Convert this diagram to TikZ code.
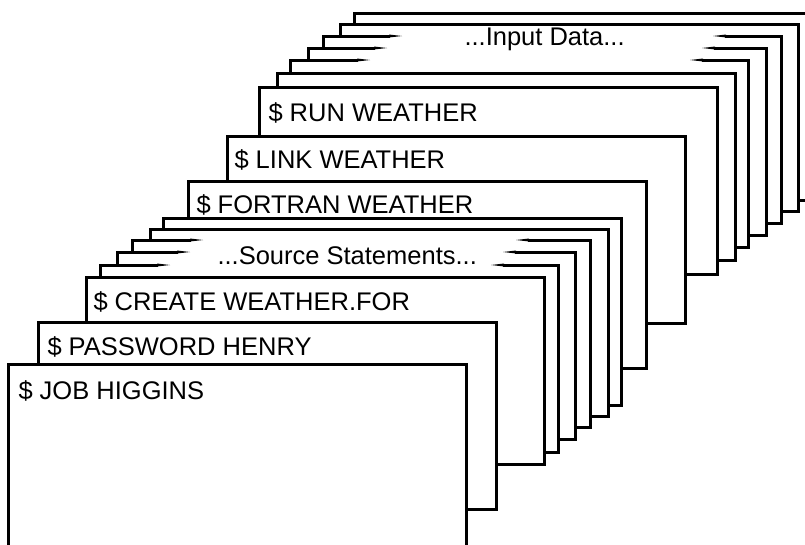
\documentclass[tikz,border=0pt]{standalone}
\usepackage{fontspec}
\setmainfont{Liberation Sans}
\newcommand\deckfullcard[2]{%
  \filldraw[fill=white] (#1,#2) rectangle ++(458,187);}
\newcommand\decktapercard[4]{%
  \fill[white] (#1,#2) rectangle ++(458,187);
  \draw (#4+12,#2) -- (#1+458,#2) -- (#1+458,#2+187) -- (#1,#2+187) -- (#1,#2) -- (#3-12,#2);
  \fill (#3-13,#2-1.5) -- (#3,#2) -- (#3-13,#2+1.5) -- cycle;
  \fill (#4+13,#2-1.5) -- (#4,#2) -- (#4+13,#2+1.5) -- cycle;}
\begin{document}
\begin{tikzpicture}[x=1pt,y=-1pt,line width=3pt,line join=miter,
  cardtext/.style={anchor=base west,inner sep=0pt,font=\fontsize{25.5}{30}\selectfont}]
\useasboundingbox (0,0) rectangle (805,544);
\clip (0,0) rectangle (805,544);
% input data group (back)
\deckfullcard{354}{13}
\deckfullcard{340}{24}
\decktapercard{323}{36}{402}{713}
\decktapercard{308}{48}{387}{702}
\decktapercard{290}{60}{370}{690}
\deckfullcard{277}{73}
% job steps
\deckfullcard{259}{87}
\deckfullcard{227}{136}
\deckfullcard{188}{181}
% source group
\deckfullcard{163}{218}
\deckfullcard{150}{229}
\decktapercard{132}{240}{203}{516}
\decktapercard{117}{252}{190}{503}
\decktapercard{100}{265}{170}{491}
% front cards
\deckfullcard{86}{277}
\deckfullcard{38}{322}
\deckfullcard{8}{364}
% texts
\node[cardtext] (input) at (463,45) {...Input Data...};
\node[cardtext] (run) at (267,121) {\$ RUN WEATHER};
\node[cardtext] (link) at (233,168) {\$ LINK WEATHER};
\node[cardtext] (fortran) at (195,213) {\$ FORTRAN WEATHER};
\node[cardtext] (source) at (216,264) {...Source Statements...};
\node[cardtext] (create) at (92,310) {\$ CREATE WEATHER.FOR};
\node[cardtext] (password) at (46,355) {\$ PASSWORD HENRY};
\node[cardtext] (job) at (17,399) {\$ JOB HIGGINS};
\end{tikzpicture}
\end{document}
